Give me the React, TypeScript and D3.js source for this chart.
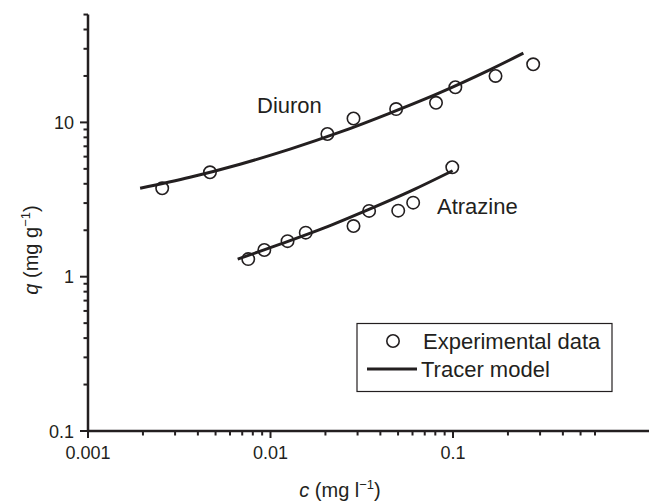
import React from "react";
import * as d3 from "d3";

const diuronC = [0.00255, 0.00466, 0.0205, 0.0285, 0.0488, 0.0807, 0.103, 0.171, 0.275];
const diuronQ = [3.74, 4.75, 8.41, 10.6, 12.2, 13.4, 16.9, 20.0, 23.8];
const atrazineC = [0.00755, 0.00925, 0.0124, 0.0156, 0.0285, 0.0347, 0.0501, 0.0605, 0.0991];
const atrazineQ = [1.3, 1.49, 1.7, 1.93, 2.13, 2.67, 2.68, 3.02, 5.12];

const diuronModelC = [0.00193, 0.00362, 0.00681, 0.0128, 0.024, 0.0452, 0.0849, 0.16, 0.243];
const diuronModelQ = [3.74, 4.41, 5.36, 6.71, 8.64, 11.5, 15.6, 22.0, 28.1];
const atrazineModelC = [0.00661, 0.0114, 0.0197, 0.0341, 0.0589, 0.0995];
const atrazineModelQ = [1.3, 1.63, 2.07, 2.71, 3.6, 4.86];

const xMajorTicks = [0.001, 0.01, 0.1];
const xMajorLabels = ["0.001", "0.01", "0.1"];
const xMinorTicks = [
  0.002, 0.003, 0.004, 0.005, 0.006, 0.007, 0.008, 0.009,
  0.02, 0.03, 0.04, 0.05, 0.06, 0.07, 0.08, 0.09,
  0.2, 0.3, 0.4, 0.5, 0.6,
];
const yMajorTicks = [0.1, 1, 10];
const yMajorLabels = ["0.1", "1", "10"];
const yMinorTicks = [
  0.2, 0.3, 0.4, 0.5, 0.6, 0.7, 0.8, 0.9,
  2, 3, 4, 5, 6, 7, 8, 9,
  20, 30, 40, 50,
];

const seriesLabels = ["Diuron", "Atrazine"];
const legendLabels = ["Experimental data", "Tracer model"];

const INK = "#231f20";
const FONT = "'Liberation Sans', Arial, Helvetica, sans-serif";

export default function App() {
  const W = 649;
  const H = 501;
  const x = d3.scaleLog().domain([0.001, 0.1]).range([88, 453]);
  const y = d3.scaleLog().domain([0.1, 10]).range([431, 122.4]);
  const xEnd = 649;
  const yTop = y(50);

  const line = d3
    .line<[number, number]>()
    .x((d) => x(d[0]))
    .y((d) => y(d[1]))
    .curve(d3.curveCatmullRom.alpha(0.5));

  const diuronModel = diuronModelC.map((c, i) => [c, diuronModelQ[i]] as [number, number]);
  const atrazineModel = atrazineModelC.map((c, i) => [c, atrazineModelQ[i]] as [number, number]);

  const points = [
    ...diuronC.map((c, i) => [c, diuronQ[i]]),
    ...atrazineC.map((c, i) => [c, atrazineQ[i]]),
  ];

  return (
    <svg
      width={W}
      height={H}
      style={{ position: "absolute", left: 0, top: 0, background: "#fff" }}
      fontFamily={FONT}
    >
      <rect x={0} y={0} width={W} height={H} fill="#fff" />
      {/* axes */}
      <line x1={x(0.001)} x2={x(0.001)} y1={yTop} y2={y(0.1) + 1} stroke={INK} strokeWidth={2.5} />
      <line x1={x(0.001) - 1} x2={xEnd} y1={y(0.1)} y2={y(0.1)} stroke={INK} strokeWidth={2.5} />

      {xMajorTicks.map((t, i) => (
        <g key={"xM" + i}>
          <line x1={x(t)} x2={x(t)} y1={y(0.1)} y2={y(0.1) + 7} stroke={INK} strokeWidth={2} />
          <text x={x(t)} y={459} fontSize={18} textAnchor="middle" fill={INK}>
            {xMajorLabels[i]}
          </text>
        </g>
      ))}
      {xMinorTicks.map((t, i) => (
        <line key={"xm" + i} x1={x(t)} x2={x(t)} y1={y(0.1)} y2={y(0.1) + 4.5} stroke={INK} strokeWidth={2} />
      ))}

      {yMajorTicks.map((t, i) => (
        <g key={"yM" + i}>
          <line x1={x(0.001) - 8} x2={x(0.001)} y1={y(t)} y2={y(t)} stroke={INK} strokeWidth={2} />
          <text x={74} y={y(t) + 6.5} fontSize={18} textAnchor="end" fill={INK}>
            {yMajorLabels[i]}
          </text>
        </g>
      ))}
      {yMinorTicks.map((t, i) => (
        <line key={"ym" + i} x1={x(0.001) - 4.5} x2={x(0.001)} y1={y(t)} y2={y(t)} stroke={INK} strokeWidth={2} />
      ))}

      {/* axis titles */}
      <text x={340} y={497} fontSize={20} textAnchor="middle" fill={INK}>
        <tspan fontStyle="italic">c</tspan>
        <tspan> (mg l</tspan>
        <tspan dy={-8} fontSize={13}>−1</tspan>
        <tspan dy={8}>)</tspan>
      </text>
      <text
        transform="translate(38,250) rotate(-90)"
        fontSize={20}
        textAnchor="middle"
        fill={INK}
      >
        <tspan fontStyle="italic">q</tspan>
        <tspan> (mg g</tspan>
        <tspan dy={-8} fontSize={13}>−1</tspan>
        <tspan dy={8}>)</tspan>
      </text>

      {/* model curves */}
      <path d={line(diuronModel) || ""} fill="none" stroke={INK} strokeWidth={3} />
      <path d={line(atrazineModel) || ""} fill="none" stroke={INK} strokeWidth={3} />

      {/* data */}
      {points.map((p, i) => (
        <circle key={"p" + i} cx={x(p[0])} cy={y(p[1])} r={6.2} fill="none" stroke={INK} strokeWidth={1.6} />
      ))}

      {/* series labels */}
      <text x={257} y={113} fontSize={22} fill={INK}>{seriesLabels[0]}</text>
      <text x={437} y={214} fontSize={22} fill={INK}>{seriesLabels[1]}</text>

      {/* legend */}
      <rect x={357} y={323.5} width={255} height={68} fill="#fff" stroke={INK} strokeWidth={1.2} />
      <circle cx={393} cy={341} r={6.2} fill="none" stroke={INK} strokeWidth={1.6} />
      <text x={423} y={349} fontSize={22} fill={INK}>{legendLabels[0]}</text>
      <line x1={367} x2={417} y1={369} y2={369} stroke={INK} strokeWidth={3} />
      <text x={421} y={377} fontSize={22} fill={INK}>{legendLabels[1]}</text>
    </svg>
  );
}
